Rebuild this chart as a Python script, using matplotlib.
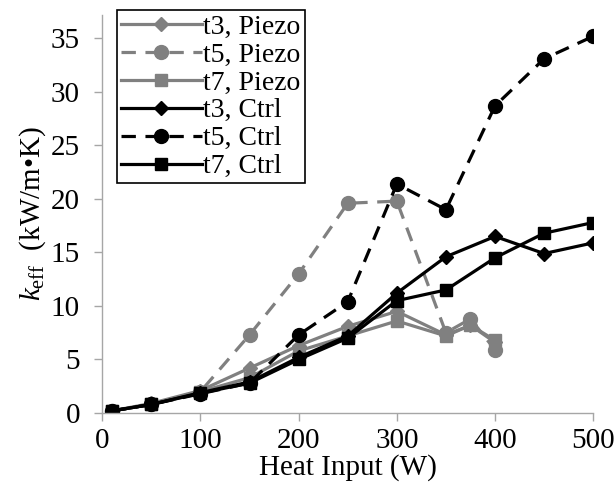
import matplotlib
matplotlib.use('Agg')
import matplotlib.pyplot as plt

plt.rcParams['font.family'] = ['Liberation Serif', 'DejaVu Serif']
plt.rcParams['mathtext.fontset'] = 'custom'
plt.rcParams['mathtext.rm'] = 'Liberation Serif'
plt.rcParams['mathtext.it'] = 'Liberation Serif:italic'

# heat input (W)
x_ctrl = [10, 50, 100, 150, 200, 250, 300, 350, 400, 450, 500]
x_piezo = [10, 50, 100, 150, 200, 250, 300, 350, 375, 400]

# effective conductivity (kW/m K)
t3_piezo = [0.2, 0.9, 2.1, 4.2, 6.3, 8.1, 9.5, 7.3, 8.2, 6.6]
t5_piezo = [0.2, 0.8, 2.0, 7.3, 13.0, 19.6, 19.8, 7.5, 8.8, 5.9]
t7_piezo = [0.2, 0.8, 2.0, 3.3, 5.8, 7.2, 8.6, 7.2, 8.2, 6.8]
t3_ctrl = [0.2, 0.8, 1.9, 2.9, 5.2, 7.2, 11.2, 14.6, 16.5, 14.9, 15.9]
t5_ctrl = [0.2, 0.8, 1.8, 2.8, 7.3, 10.4, 21.4, 19.0, 28.7, 33.1, 35.2]
t7_ctrl = [0.2, 0.8, 1.85, 2.8, 5.0, 7.0, 10.5, 11.5, 14.5, 16.8, 17.8]

GRAY = '#808080'
AX = '#A6A6A6'
LW = 2.3
DASH = (4.5, 3)
FS = 21

fig = plt.figure(figsize=(6.16, 4.97), dpi=100)
ax = fig.add_axes([0.166, 0.169, 0.797, 0.801])

ax.plot(x_piezo, t3_piezo, color=GRAY, lw=LW, marker='D', ms=7, label='t3, Piezo')
ax.plot(x_piezo, t5_piezo, color=GRAY, lw=LW, marker='o', ms=10, dashes=DASH, label='t5, Piezo')
ax.plot(x_piezo, t7_piezo, color=GRAY, lw=LW, marker='s', ms=9, label='t7, Piezo')
ax.plot(x_ctrl, t3_ctrl, color='black', lw=LW, marker='D', ms=7, label='t3, Ctrl')
ax.plot(x_ctrl, t5_ctrl, color='black', lw=LW, marker='o', ms=10, dashes=DASH, label='t5, Ctrl')
ax.plot(x_ctrl, t7_ctrl, color='black', lw=LW, marker='s', ms=9, label='t7, Ctrl')

ax.set_xlim(0, 500)
ax.set_ylim(0, 37.2)
ax.set_xticks(range(0, 501, 100))
ax.set_yticks(range(0, 36, 5))
for s in ('top', 'right'):
    ax.spines[s].set_visible(False)
for s in ('left', 'bottom'):
    ax.spines[s].set_color(AX)
    ax.spines[s].set_linewidth(1)
ax.tick_params(direction='out', length=6, width=1, color=AX, labelsize=FS)
ax.tick_params(axis='x', pad=5)
ax.tick_params(axis='y', pad=10)

ax.set_xlabel('Heat Input (W)', fontsize=FS, labelpad=0)
ax.set_ylabel(r'$k_{\rm eff}$  (kW/m•K)', fontsize=FS, labelpad=2)

leg = ax.legend(loc='upper left', bbox_to_anchor=(0.03, 1.0125), fontsize=20,
                frameon=True, fancybox=False, edgecolor='black', framealpha=1,
                handlelength=2.9, handletextpad=0.05, labelspacing=0.09,
                borderpad=0.15, borderaxespad=0.0)
leg.get_frame().set_linewidth(1.2)

fig.savefig('out.png', dpi=100, facecolor='white')
